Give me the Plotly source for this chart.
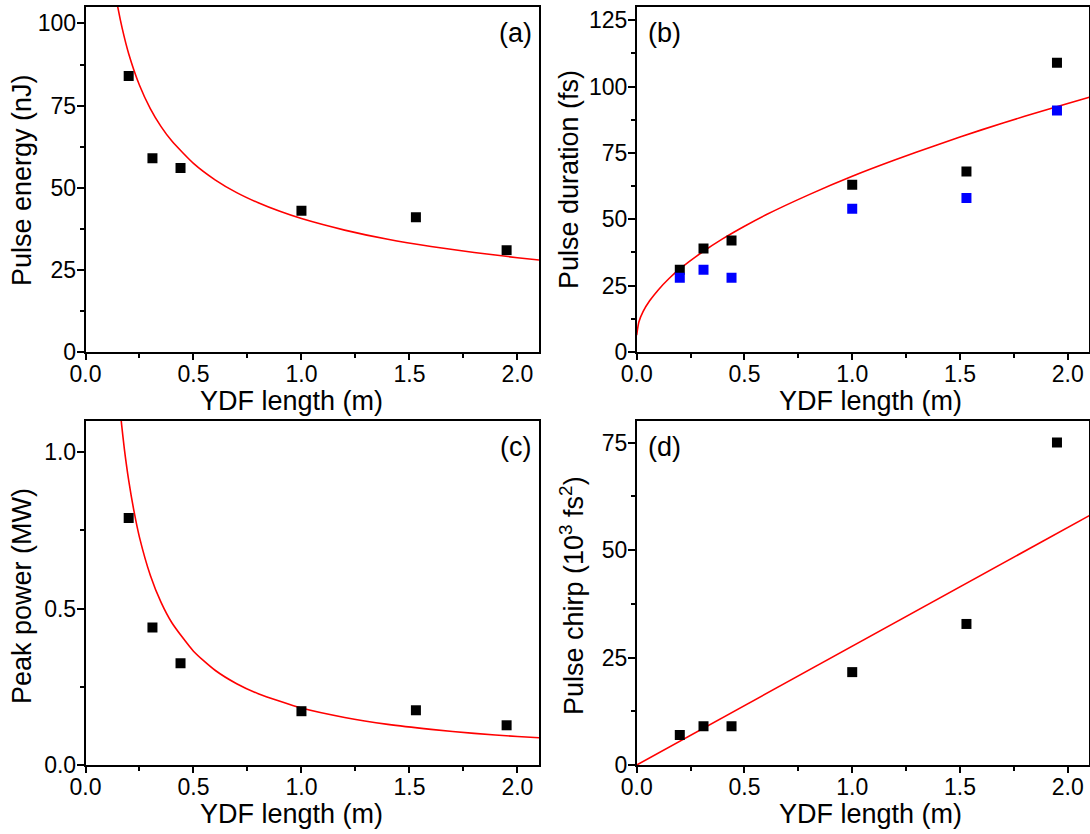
import plotly.graph_objects as go

# Fibre lengths of the measured points (m)
ydf_length = [0.20, 0.31, 0.44, 1.00, 1.53, 1.95]

# (a) pulse energy (nJ) and its fitted curve
pulse_energy = [84, 59, 56, 43, 41, 31]
energy_fit_x = [0.14, 0.15, 0.17, 0.20, 0.25, 0.30, 0.35, 0.40, 0.50, 0.60, 0.70, 0.80, 0.90, 1.00, 1.20, 1.40, 1.60, 1.80, 2.00, 2.10]
energy_fit_y = [108.5, 104.8, 98.5, 90.8, 81.2, 74.1, 68.6, 64.2, 57.4, 52.4, 48.5, 45.4, 42.8, 40.6, 37.1, 34.3, 32.1, 30.3, 28.7, 28.0]

# (b) pulse duration (fs), two measured series and the fitted curve
duration_black = [31, 39, 42, 63, 68, 109]
duration_blue = [28, 31, 28, 54, 58, 91]
duration_fit_x = [0.0, 0.01, 0.03, 0.06, 0.10, 0.15, 0.20, 0.30, 0.40, 0.50, 0.60, 0.80, 1.00, 1.20, 1.40, 1.60, 1.80, 2.00, 2.10]
duration_fit_y = [6.4, 11.3, 15.3, 19.3, 23.4, 27.7, 31.3, 37.4, 42.7, 47.4, 51.7, 59.3, 66.2, 72.4, 78.2, 83.7, 88.8, 93.6, 96.0]

# (c) peak power (MW) and its fitted curve
peak_power = [0.79, 0.44, 0.325, 0.172, 0.175, 0.127]
power_fit_x = [0.16, 0.167, 0.18, 0.20, 0.225, 0.25, 0.30, 0.35, 0.40, 0.50, 0.60, 0.70, 0.80, 1.00, 1.20, 1.40, 1.60, 1.80, 2.00, 2.10]
power_fit_y = [1.14, 1.09, 1.01, 0.91, 0.81, 0.728, 0.607, 0.52, 0.455, 0.364, 0.303, 0.26, 0.228, 0.182, 0.152, 0.13, 0.114, 0.101, 0.091, 0.087]

# (d) pulse chirp (10^3 fs^2) and its linear fit
pulse_chirp = [7, 9, 9, 21.6, 32.8, 75]
chirp_fit_x = [0.0, 2.1]
chirp_fit_y = [0.0, 58]

FONT = "Liberation Sans, Arial, sans-serif"
RED = "#FF0000"

fig = go.Figure()


def add_panel(xa, ya, fit_x, fit_y, series):
    fig.add_trace(go.Scatter(x=fit_x, y=fit_y, mode="lines",
                             line=dict(color=RED, width=1.6, shape="spline", smoothing=0.6),
                             xaxis=xa, yaxis=ya, showlegend=False, hoverinfo="skip"))
    for ys, col in series:
        fig.add_trace(go.Scatter(x=ydf_length, y=ys, mode="markers",
                                 marker=dict(symbol="square", size=10, color=col, line=dict(width=0)),
                                 xaxis=xa, yaxis=ya, showlegend=False))


add_panel("x", "y", energy_fit_x, energy_fit_y, [(pulse_energy, "black")])
add_panel("x2", "y2", duration_fit_x, duration_fit_y, [(duration_black, "black"), (duration_blue, "#0000FF")])
add_panel("x3", "y3", power_fit_x, power_fit_y, [(peak_power, "black")])
add_panel("x4", "y4", chirp_fit_x, chirp_fit_y, [(pulse_chirp, "black")])

W, H = 1090, 834
left_dom = [85.5 / W, 539.0 / W]
right_dom = [636.7 / W, 1089.3 / W]
top_dom = [1 - 352.0 / H, 1 - 7.0 / H]
bot_dom = [1 - 765.0 / H, 1 - 421.0 / H]


def xaxis(domain, anchor):
    return dict(domain=domain, anchor=anchor, range=[0, 2.1], dtick=0.5, tick0=0, tickformat=".1f",
                showgrid=False, zeroline=False, showline=True, linecolor="black", linewidth=1.5, mirror=True,
                ticks="outside", ticklen=6, tickwidth=1.5, tickcolor="black", ticklabelstandoff=-5,
                minor=dict(dtick=0.25, ticks="outside", ticklen=4, tickwidth=1.5, tickcolor="black"),
                tickfont=dict(family=FONT, size=23, color="black"), automargin=False, fixedrange=True)


def yaxis(domain, anchor, rng, dtick, minor, fmt=None):
    d = dict(domain=domain, anchor=anchor, range=rng, dtick=dtick, tick0=0,
             showgrid=False, zeroline=False, showline=True, linecolor="black", linewidth=1.5, mirror=True,
             ticks="outside", ticklen=7, tickwidth=1.5, tickcolor="black", ticklabelstandoff=-4,
             minor=dict(dtick=minor, ticks="outside", ticklen=4, tickwidth=1.5, tickcolor="black"),
             tickfont=dict(family=FONT, size=23, color="black"), automargin=False, fixedrange=True)
    if fmt:
        d["tickformat"] = fmt
    return d


fig.update_layout(
    width=W, height=H,
    margin=dict(l=0, r=0, t=0, b=0),
    paper_bgcolor="white", plot_bgcolor="white",
    font=dict(family=FONT, color="black"),
    xaxis=xaxis(left_dom, "y"),
    yaxis=yaxis(top_dom, "x", [0, 105], 25, 12.5),
    xaxis2=xaxis(right_dom, "y2"),
    yaxis2=yaxis(top_dom, "x2", [0, 130], 25, 12.5),
    xaxis3=xaxis(left_dom, "y3"),
    yaxis3=yaxis(bot_dom, "x3", [0, 1.1], 0.5, 0.25, ".1f"),
    xaxis4=xaxis(right_dom, "y4"),
    yaxis4=yaxis(bot_dom, "x4", [0, 80], 25, 12.5),
)


def px(x):
    return x / W


def py(y):
    return 1 - y / H


TITLE = dict(family=FONT, size=27, color="black")
annotations = [
    # x-axis titles
    dict(text="YDF length (m)", x=px(291), y=py(401), xanchor="center", yanchor="middle"),
    dict(text="YDF length (m)", x=px(870), y=py(401), xanchor="center", yanchor="middle"),
    dict(text="YDF length (m)", x=px(291), y=py(814), xanchor="center", yanchor="middle"),
    dict(text="YDF length (m)", x=px(870), y=py(814), xanchor="center", yanchor="middle"),
    # y-axis titles
    dict(text="Pulse energy (nJ)", x=px(22), y=py(180), textangle=-90, xanchor="center", yanchor="middle"),
    dict(text="Pulse duration (fs)", x=px(569), y=py(180), textangle=-90, xanchor="center", yanchor="middle"),
    dict(text="Peak power (MW)", x=px(22), y=py(596), textangle=-90, xanchor="center", yanchor="middle"),
    dict(text="Pulse chirp (10<sup>3</sup> fs<sup>2</sup>)", x=px(572), y=py(596), textangle=-90,
         xanchor="center", yanchor="middle"),
    # panel labels
    dict(text="(a)", x=px(534), y=py(33), xanchor="right", yanchor="middle"),
    dict(text="(b)", x=px(646), y=py(33), xanchor="left", yanchor="middle"),
    dict(text="(c)", x=px(533), y=py(447), xanchor="right", yanchor="middle"),
    dict(text="(d)", x=px(646), y=py(447), xanchor="left", yanchor="middle"),
]
for a in annotations:
    a.update(xref="paper", yref="paper", showarrow=False, font=TITLE)
fig.update_layout(annotations=annotations)

fig.write_html("out.html")
